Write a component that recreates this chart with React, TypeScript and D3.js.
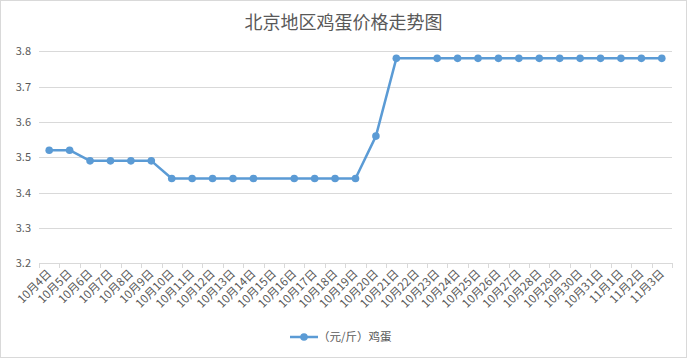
import React from "react";
import * as d3 from "d3";

const title = "北京地区鸡蛋价格走势图";
const seriesName = "（元/斤）鸡蛋";
const categories = [
  "10月4日", "10月5日", "10月6日", "10月7日", "10月8日", "10月9日", "10月10日",
  "10月11日", "10月12日", "10月13日", "10月14日", "10月15日", "10月16日", "10月17日",
  "10月18日", "10月19日", "10月20日", "10月21日", "10月22日", "10月23日", "10月24日",
  "10月25日", "10月26日", "10月27日", "10月28日", "10月29日", "10月30日", "10月31日",
  "11月1日", "11月2日", "11月3日",
];
const values: (number | null)[] = [
  3.52, 3.52, 3.49, 3.49, 3.49, 3.49, 3.44,
  3.44, 3.44, 3.44, 3.44, null, 3.44, 3.44,
  3.44, 3.44, 3.56, 3.78, null, 3.78, 3.78,
  3.78, 3.78, 3.78, 3.78, 3.78, 3.78, 3.78,
  3.78, 3.78, 3.78,
];
const yTicks = [3.2, 3.3, 3.4, 3.5, 3.6, 3.7, 3.8];

const W = 687, H = 358;
const left = 39, right = 672, top = 51.3, bottom = 263.3;
const color = "#5b9bd5";
const textColor = "#595959";
const font = "'Noto Sans CJK SC', 'Liberation Sans', sans-serif";

export default function App() {
  const x = d3.scaleBand<string>().domain(categories).range([left, right]).padding(0);
  const y = d3.scaleLinear().domain([3.2, 3.8]).range([bottom, top]);
  const pts = categories
    .map((c, i) => ({ c, v: values[i] }))
    .filter((d) => d.v !== null) as { c: string; v: number }[];
  const cx = (c: string) => (x(c) as number) + x.bandwidth() / 2;
  const line = d3.line<{ c: string; v: number }>().x((d) => cx(d.c)).y((d) => y(d.v));
  const boundaries = d3.range(categories.length + 1).map((i) => left + i * x.bandwidth());

  return (
    <svg width={W} height={H} style={{ position: "absolute", left: 0, top: 0, fontFamily: font }}>
      <rect x={0.5} y={0.5} width={W - 1} height={H - 1} fill="#fff" stroke="#d9d9d9" />
      <text x={W / 2} y={29} textAnchor="middle" fontSize={18} fill={textColor}>{title}</text>
      {yTicks.map((t) => (
        <g key={t}>
          <line x1={left} x2={right} y1={Math.round(y(t)) + 0.5} y2={Math.round(y(t)) + 0.5} stroke="#d9d9d9" strokeWidth={1} />
          <text x={31} y={y(t) + 4} textAnchor="end" fontSize={11} fill={textColor}>{t.toFixed(1)}</text>
        </g>
      ))}
      {boundaries.map((b, i) => (
        <line key={i} x1={Math.round(b) + 0.5} x2={Math.round(b) + 0.5} y1={Math.round(bottom)} y2={Math.round(bottom) + 5} stroke="#d9d9d9" />
      ))}
      {categories.map((c) => (
        <text key={c} transform={`translate(${cx(c) + 3},${bottom + 11}) rotate(-45)`} textAnchor="end" fontSize={11.5} fill={textColor}>{c}</text>
      ))}
      <path d={line(pts) as string} fill="none" stroke={color} strokeWidth={2.5} strokeLinejoin="round" />
      {pts.map((d) => (
        <circle key={d.c} cx={cx(d.c)} cy={y(d.v)} r={3.8} fill={color} />
      ))}
      <line x1={290} x2={318} y1={337} y2={337} stroke={color} strokeWidth={2.5} />
      <circle cx={304} cy={337} r={3.8} fill={color} />
      <text x={318} y={341} fontSize={11.5} fill={textColor}>{seriesName}</text>
    </svg>
  );
}
